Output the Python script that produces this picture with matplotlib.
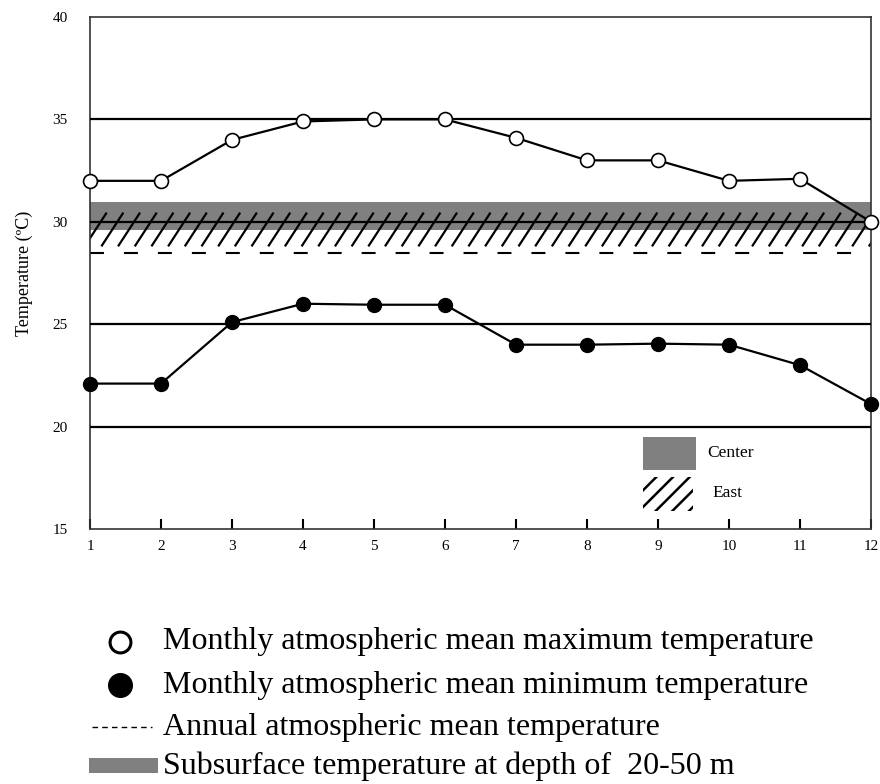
import matplotlib
matplotlib.use("Agg")
import matplotlib.pyplot as plt
from matplotlib.lines import Line2D
from matplotlib.patches import Rectangle
import numpy as np

plt.rcParams['font.family'] = ['Liberation Serif', 'DejaVu Serif']
plt.rcParams['hatch.linewidth'] = 1.8

months = [1, 2, 3, 4, 5, 6, 7, 8, 9, 10, 11, 12]
t_max = [32.0, 32.0, 34.0, 34.9, 35.0, 35.0, 34.1, 33.0, 33.0, 32.0, 32.1, 30.0]
t_min = [22.1, 22.1, 25.1, 26.0, 25.95, 25.95, 24.0, 24.0, 24.05, 24.0, 23.0, 21.1]
annual_mean = 28.47
center_band = (29.6, 30.97)
east_band = (28.8, 30.45)
grid_levels = [20, 25, 30, 35]

legend_labels = ["Monthly atmospheric mean maximum temperature",
                 "Monthly atmospheric mean minimum temperature",
                 "Annual atmospheric mean temperature",
                 "Subsurface temperature at depth of  20-50 m"]

fig = plt.figure(figsize=(8.8, 7.84), dpi=100)
ax = fig.add_axes([90/880, 1-529/784, (871-90)/880, (529-17)/784])

# bands
ax.fill_between([1, 12], center_band[0], center_band[1], color='#808080', lw=0, zorder=1)
# steep slashes for the East band
step, slant = 0.235, 0.31
for x0 in np.arange(1 - slant, 12, step):
    ax.plot([x0, x0 + slant], [east_band[0], east_band[1]], color='black', lw=1.6,
            solid_capstyle='butt', zorder=2)
ax.plot([1, 12], [annual_mean, annual_mean], color='black', lw=1.5, dashes=(6.7, 9.6), zorder=2)

for g in grid_levels:
    ax.axhline(g, color='black', lw=1.6, zorder=3)

ax.plot(months, t_max, color='black', lw=1.6, marker='o', ms=10, mfc='white',
        mec='black', mew=1.2, zorder=5, clip_on=False)
ax.plot(months, t_min, color='black', lw=1.6, marker='o', ms=10, mfc='black',
        mec='black', zorder=5, clip_on=False)

ax.set_xlim(1, 12)
ax.set_ylim(15, 40)
ax.set_xticks(months)
ax.set_yticks([15, 20, 25, 30, 35, 40])
ax.tick_params(axis='x', direction='in', length=7, width=1.5, pad=8, labelsize=11)
ax.tick_params(axis='y', length=0, pad=16, labelsize=11)
for s in ax.spines.values():
    s.set_linewidth(1.2)
    s.set_color('#333333')
ax.set_ylabel('Temperature (\u00baC)', fontsize=13, labelpad=14)

# inner legend
ax.add_patch(Rectangle((8.79, 17.88), 0.75, 1.6, facecolor='#808080', lw=0, zorder=4))
ax.text(9.7, 18.7, 'Center', fontsize=12.5, va='center')
ax.add_patch(Rectangle((8.79, 15.9), 0.7, 1.64, facecolor='none', edgecolor='black',
                       hatch='//', lw=0, zorder=4))
ax.text(9.76, 16.76, 'East', fontsize=12.5, va='center')

# outer legend
rows = [642, 685, 727, 766]
fy = [1 - r/784 for r in rows]
fig.add_artist(Line2D([120/880], [fy[0]], marker='o', ms=15, mfc='white', mec='black', mew=2.2,
                      transform=fig.transFigure))
fig.add_artist(Line2D([120/880], [fy[1]], marker='o', ms=17, mfc='black', mec='black',
                      transform=fig.transFigure))
fig.add_artist(Line2D([92/880, 152/880], [fy[2], fy[2]], color='black', lw=1, dashes=(4, 3),
                      transform=fig.transFigure))
fig.add_artist(Rectangle((89/880, 1-773/784), 69/880, 15/784, facecolor='#808080', lw=0,
                         transform=fig.transFigure))
for lab, y in zip(legend_labels, fy):
    fig.text(163/880, y, lab, fontsize=23, va='center', ha='left')

fig.savefig('out.png', dpi=100)
